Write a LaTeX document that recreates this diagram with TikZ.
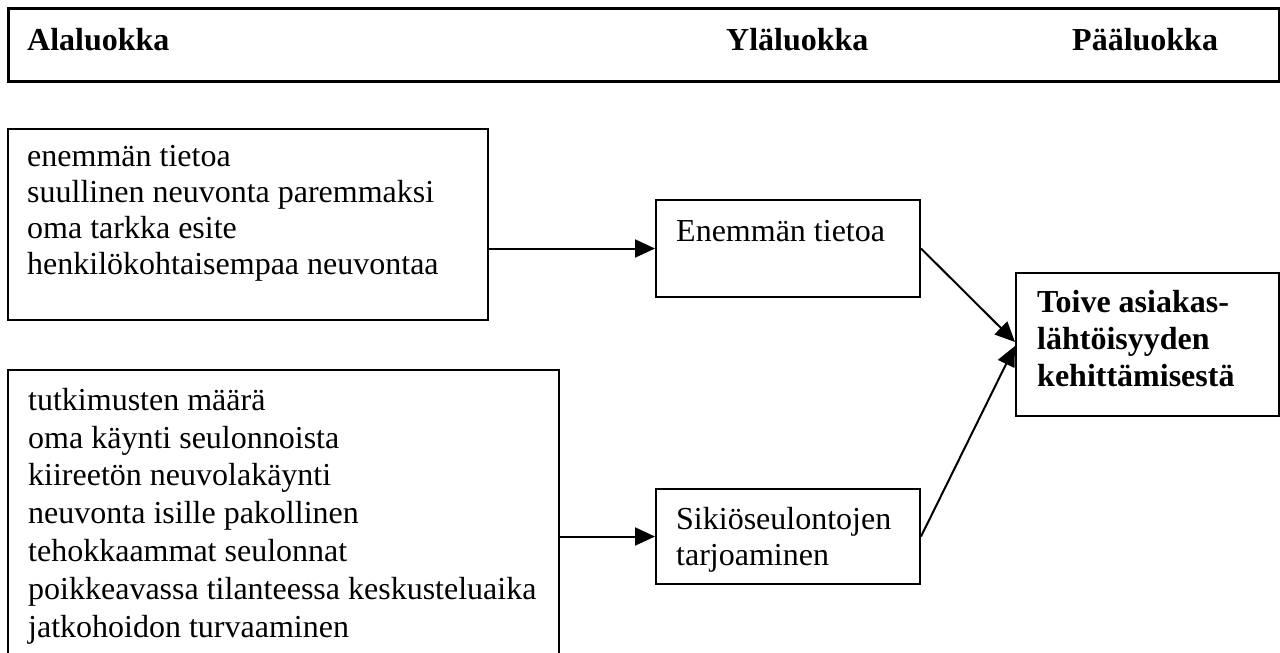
\documentclass[tikz,border=0pt]{standalone}
\usepackage{fontspec}
\setmainfont{Liberation Serif}
\usetikzlibrary{arrows.meta}

\begin{document}
\begin{tikzpicture}[x=1pt,y=-1pt,
  box/.style={draw, line width=2pt, inner sep=0pt, anchor=north west},
  headbox/.style={box, line width=2.5pt},
  % multi-line labels are placed by the baseline of their last line
  label/.style={anchor=base west, inner sep=0pt, align=left},
  arr/.style={-{Triangle[length=20pt,width=18pt]}, line width=2pt}]

  \useasboundingbox (0,0) rectangle (1280,653);
  \clip (0,0) rectangle (1280,653);
  \fill[white] (0,0) rectangle (1280,653);

  % header row with the three category titles
  \node[headbox, minimum width=1271pt, minimum height=73pt] (head) at (7,7) {};
  \node[label, font=\fontsize{32}{37}\selectfont\bfseries] (hsub) at (27,50) {Alaluokka};
  \node[label, font=\fontsize{32}{37}\selectfont\bfseries] (hup) at (726,50) {Yläluokka};
  \node[label, font=\fontsize{32}{37}\selectfont\bfseries] (hmain) at (1072,50) {Pääluokka};

  % sub-category boxes
  \node[box, minimum width=480pt, minimum height=191pt] (b1) at (7,128) {};
  \node[label, font=\fontsize{32}{35.7}\selectfont] (t1) at (27,274)
    {enemmän tietoa\\suullinen neuvonta paremmaksi\\oma tarkka esite\\henkilökohtaisempaa neuvontaa};

  \node[box, minimum width=551pt, minimum height=340pt] (b4) at (7,369) {};
  \node[label, font=\fontsize{32}{37.8}\selectfont] (t4) at (28,637)
    {tutkimusten määrä\\oma käynti seulonnoista\\kiireetön neuvolakäynti\\neuvonta isille pakollinen\\tehokkaammat seulonnat\\poikkeavassa tilanteessa keskusteluaika\\jatkohoidon turvaaminen};

  % upper-category boxes
  \node[box, minimum width=264pt, minimum height=97pt] (e) at (655,199) {};
  \node[label, font=\fontsize{32}{36}\selectfont] (te) at (676,241) {Enemmän tietoa};

  \node[box, minimum width=264pt, minimum height=95pt] (s) at (655,488) {};
  \node[label, font=\fontsize{32}{36}\selectfont] (ts) at (676,565) {Sikiöseulontojen\\tarjoaminen};

  % main category
  \node[box, minimum width=263pt, minimum height=143pt] (t) at (1015,272) {};
  \node[label, font=\fontsize{32}{37}\selectfont\bfseries] (tt) at (1037,386)
    {Toive asiakas-\\lähtöisyyden\\kehittämisestä};

  % connectors
  \draw[arr] (b1.east |- e.west) -- (e.west);
  \draw[arr] (b4.east |- s.west) -- (s.west);
  \draw[arr] (e.east) -- ([yshift=2.5pt]t.west);
  \draw[arr] (s.east) -- ([yshift=-1.5pt]t.west);
\end{tikzpicture}
\end{document}
